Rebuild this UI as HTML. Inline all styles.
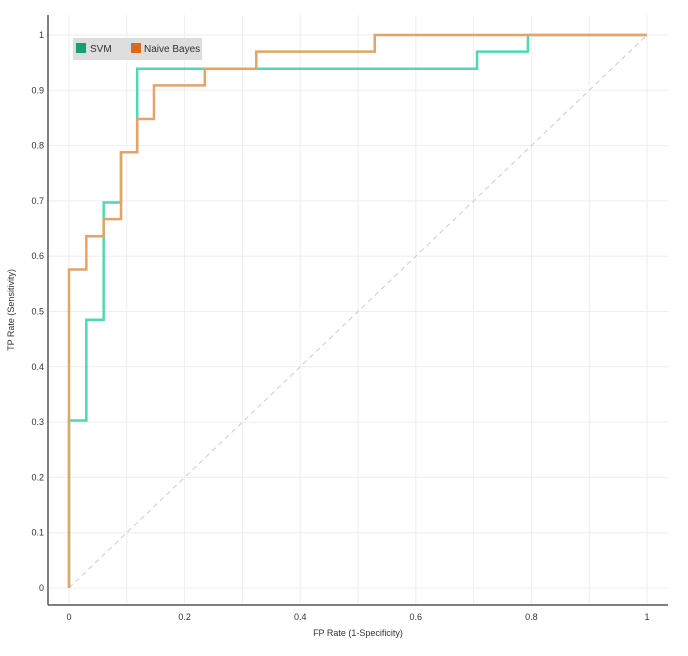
<!DOCTYPE html>
<html><head><meta charset="utf-8"><style>
body{margin:0;background:#fff;}
svg text{font-family:"Liberation Sans",sans-serif;fill:#333;}
</style></head><body>
<svg id="chart" width="688" height="651">
<g id="grid"></g>
<line x1="69" y1="588" x2="647" y2="35" stroke="#ccc" stroke-width="1" stroke-dasharray="5,4"/>
<g id="series"></g>
<line x1="48" y1="15" x2="48" y2="605" stroke="#555" stroke-width="1.5"/>
<line x1="48" y1="605" x2="668" y2="605" stroke="#555" stroke-width="1.5"/>
<g id="ticks"></g>
<text x="358" y="636" font-size="9" text-anchor="middle">FP Rate (1-Specificity)</text>
<text transform="translate(14,310) rotate(-90)" font-size="9" text-anchor="middle">TP Rate (Sensitivity)</text>
<g>
<rect x="73" y="38" width="129" height="22" fill="#ddd"/>
<g><rect x="76" y="43" width="10" height="10" fill="#1e9a78"/><text x="90" y="52" font-size="10">SVM</text></g>
<g><rect x="131" y="43" width="10" height="10" fill="#d8691e"/><text x="144" y="52" font-size="10">Naive Bayes</text></g>
</g>
</svg>
<script>
const xTicks=[0,0.2,0.4,0.6,0.8,1];
const yTicks=[0,0.1,0.2,0.3,0.4,0.5,0.6,0.7,0.8,0.9,1];
const svmFpr=[0,0,0.03,0.03,0.06,0.06,0.09,0.09,0.118,0.118,0.706,0.706,0.794,0.794,1];
const svmTpr=[0,0.303,0.303,0.485,0.485,0.697,0.697,0.788,0.788,0.939,0.939,0.97,0.97,1,1];
const nbFpr=[0,0,0.03,0.03,0.06,0.06,0.09,0.09,0.118,0.118,0.147,0.147,0.235,0.235,0.324,0.324,0.529,0.529,1];
const nbTpr=[0,0.576,0.576,0.636,0.636,0.667,0.667,0.788,0.788,0.848,0.848,0.909,0.909,0.939,0.939,0.97,0.97,1,1];
const NS="http://www.w3.org/2000/svg";
const sx=v=>69+v*578, sy=v=>588-v*553;
const grid=document.getElementById('grid'), ticks=document.getElementById('ticks'), series=document.getElementById('series');
for(let i=0;i<=10;i++){const v=i/10;
 let l=document.createElementNS(NS,'line');l.setAttribute('x1',sx(v));l.setAttribute('x2',sx(v));l.setAttribute('y1',15);l.setAttribute('y2',605);l.setAttribute('stroke','#eee');
 
 grid.appendChild(l);}
yTicks.forEach(v=>{
 let l=document.createElementNS(NS,'line');l.setAttribute('x1',48);l.setAttribute('x2',668);l.setAttribute('y1',sy(v));l.setAttribute('y2',sy(v));l.setAttribute('stroke','#eee');
 
 grid.appendChild(l);
 let t=document.createElementNS(NS,'text');t.setAttribute('x',44);t.setAttribute('y',sy(v)+3);t.setAttribute('font-size','9');t.setAttribute('text-anchor','end');t.textContent=String(v);
 
 ticks.appendChild(t);});
xTicks.forEach(v=>{
 let t=document.createElementNS(NS,'text');t.setAttribute('x',sx(v));t.setAttribute('y',620);t.setAttribute('font-size','9');t.setAttribute('text-anchor','middle');t.textContent=String(v);
 
 ticks.appendChild(t);});
function draw(xs,ys,color,name){
 let p=document.createElementNS(NS,'polyline');
 p.setAttribute('points',xs.map((x,i)=>sx(x)+','+sy(ys[i])).join(' '));
 p.setAttribute('fill','none');p.setAttribute('stroke',color);p.setAttribute('stroke-width','2.5');
 
 series.appendChild(p);}
draw(svmFpr,svmTpr,'#4dd9b3','svm-roc-line');
draw(nbFpr,nbTpr,'#e3a567','naive-bayes-roc-line');
</script>
</body></html>
